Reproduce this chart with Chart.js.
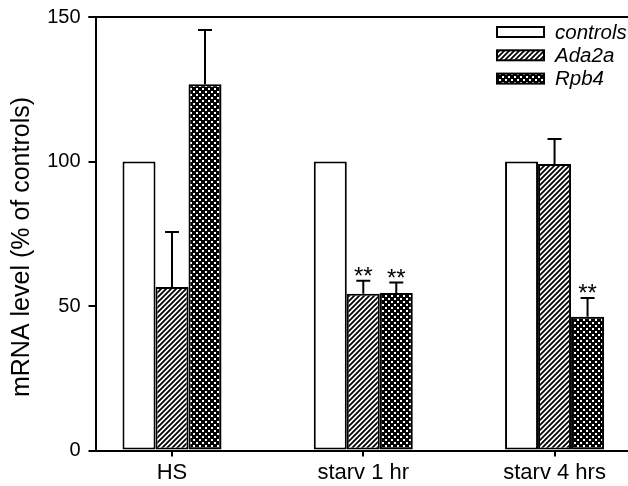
<!DOCTYPE html>
<html>
<head>
<meta charset="utf-8">
<script src="https://cdn.jsdelivr.net/npm/chart.js@4/dist/chart.umd.min.js"></script>
<style>
html,body{margin:0;padding:0;background:#fff;}
#wrap{width:628px;height:486px;position:relative;}
</style>
</head>
<body>
<div id="wrap"><canvas id="c" width="628" height="486"></canvas></div>
<script>
const categories = ['HS', 'starv 1 hr', 'starv 4 hrs'];
const seriesNames = ['controls', 'Ada2a', 'Rpb4'];
const controls = [100, 100, 100];
const ada2a = [56.6, 54.2, 99.1];
const rpb4 = [126.7, 54.5, 46.3];
const controlsErr = [0, 0, 0];
const ada2aErr = [19.0, 4.5, 8.7];
const rpb4Err = [18.8, 3.6, 6.5];
const controlsSig = ['', '', ''];
const ada2aSig = ['', '**', ''];
const rpb4Sig = ['', '**', '**'];
const yTicks = [0, 50, 100, 150];
const yTitle = 'mRNA level (% of controls)';

function hatchPattern() {
  const c = document.createElement('canvas');
  c.width = 5; c.height = 5;
  const g = c.getContext('2d');
  g.fillStyle = '#fff'; g.fillRect(0, 0, 5, 5);
  g.strokeStyle = '#000'; g.lineWidth = 1.8;
  g.beginPath();
  g.moveTo(-1, 6); g.lineTo(6, -1);
  g.moveTo(-3, 3); g.lineTo(3, -3);
  g.moveTo(2, 8); g.lineTo(8, 2);
  g.stroke();
  return g.createPattern(c, 'repeat');
}
function crossPattern() {
  const c = document.createElement('canvas');
  c.width = 6; c.height = 6;
  const g = c.getContext('2d');
  g.fillStyle = '#000'; g.fillRect(0, 0, 6, 6);
  g.fillStyle = '#fff';
  g.fillRect(1, 1, 2, 2);
  g.fillRect(4, 4, 2, 2);
  return g.createPattern(c, 'repeat');
}

const values = [controls, ada2a, rpb4];
const errs = [controlsErr, ada2aErr, rpb4Err];
const sigs = [controlsSig, ada2aSig, rpb4Sig];
const fills = ['#ffffff', hatchPattern(), crossPattern()];

const datasets = seriesNames.map((name, i) => ({
  label: name,
  data: values[i].map((v, j) => ({x: j, y: v})),
  backgroundColor: fills[i],
  borderColor: '#000',
  borderWidth: 2,
  borderSkipped: false,
  barPercentage: 1.0,
  categoryPercentage: 0.5176,
  errs: errs[i],
  sigs: sigs[i]
}));

const extras = {
  id: 'extras',
  afterDatasetsDraw(chart) {
    const ctx = chart.ctx;
    const ys = chart.scales.y;
    const area = chart.chartArea;
    ctx.save();
    ctx.strokeStyle = '#000';
    ctx.lineWidth = 2;
    ctx.beginPath();
    ctx.moveTo(area.left - 7, area.top);
    ctx.lineTo(chart.width, area.top);
    ctx.stroke();
    chart.data.datasets.forEach((ds, i) => {
      const meta = chart.getDatasetMeta(i);
      meta.data.forEach((bar, j) => {
        const e = ds.errs[j];
        const v = ds.data[j].y;
        const x = bar.x;
        let capY = bar.y;
        if (e > 0) {
          capY = ys.getPixelForValue(v + e);
          ctx.strokeStyle = '#000';
          ctx.lineWidth = 2;
          ctx.beginPath();
          ctx.moveTo(x, bar.y);
          ctx.lineTo(x, capY);
          ctx.moveTo(x - 7, capY);
          ctx.lineTo(x + 7, capY);
          ctx.stroke();
        }
        const s = ds.sigs[j];
        if (s) {
          ctx.fillStyle = '#000';
          ctx.font = '24px "Liberation Sans", Arial, sans-serif';
          ctx.textAlign = 'center';
          ctx.textBaseline = 'alphabetic';
          ctx.fillText(s, x, capY + 3);
        }
      });
    });
    const lx = 497, lw = 47, lh = 10, ly0 = 32, lstep = 23.3;
    chart.data.datasets.forEach((ds, i) => {
      const cy = ly0 + i * lstep;
      ctx.fillStyle = ds.backgroundColor;
      ctx.fillRect(lx, cy - lh / 2, lw, lh);
      ctx.strokeStyle = '#000';
      ctx.lineWidth = 2;
      ctx.strokeRect(lx, cy - lh / 2, lw, lh);
      ctx.fillStyle = '#000';
      ctx.font = 'italic 20.5px "Liberation Sans", Arial, sans-serif';
      ctx.textAlign = 'left';
      ctx.textBaseline = 'middle';
      ctx.fillText(ds.label, 555, cy + 1);
    });
    ctx.save();
    ctx.translate(22, 247);
    ctx.rotate(-Math.PI / 2);
    ctx.fillStyle = '#000';
    ctx.font = '25px "Liberation Sans", Arial, sans-serif';
    ctx.textAlign = 'center';
    ctx.textBaseline = 'middle';
    ctx.fillText(yTitle, 0, 0);
    ctx.restore();
    ctx.restore();
  }
};

new Chart(document.getElementById('c'), {
  type: 'bar',
  data: {datasets},
  options: {
    responsive: false,
    animation: false,
    devicePixelRatio: 1,
    layout: {padding: {top: 17, right: 0, left: 0, bottom: 0}},
    plugins: {legend: {display: false}, tooltip: {enabled: false}},
    scales: {
      x: {
        type: 'linear',
        offset: false,
        min: -0.4,
        max: 2.384,
        afterFit(s) { s.height = 35.5; s.paddingLeft = 0; s.paddingRight = 0; },
        afterBuildTicks(s) { s.ticks = categories.map((c, i) => ({value: i})); },
        grid: {offset: false, drawOnChartArea: false, drawTicks: true, tickLength: 6, color: '#000', lineWidth: 2},
        border: {display: true, color: '#000', width: 2},
        ticks: {
          color: '#000',
          padding: 3,
          font: {family: '"Liberation Sans", Arial, sans-serif', size: 22},
          callback: (v) => categories[v] ?? '',
          maxRotation: 0,
          autoSkip: false
        }
      },
      y: {
        min: 0,
        max: 150,
        afterFit(s) { s.width = 95.5; s.paddingTop = 0; s.paddingBottom = 0; },
        afterBuildTicks(s) { s.ticks = yTicks.map(v => ({value: v})); },
        grid: {drawOnChartArea: false, drawTicks: true, tickLength: 7, color: '#000', lineWidth: 2},
        border: {display: true, color: '#000', width: 2},
        ticks: {
          color: '#000',
          padding: 8,
          font: {family: '"Liberation Sans", Arial, sans-serif', size: 20}
        }
      }
    }
  },
  plugins: [extras]
});
</script>
</body>
</html>
